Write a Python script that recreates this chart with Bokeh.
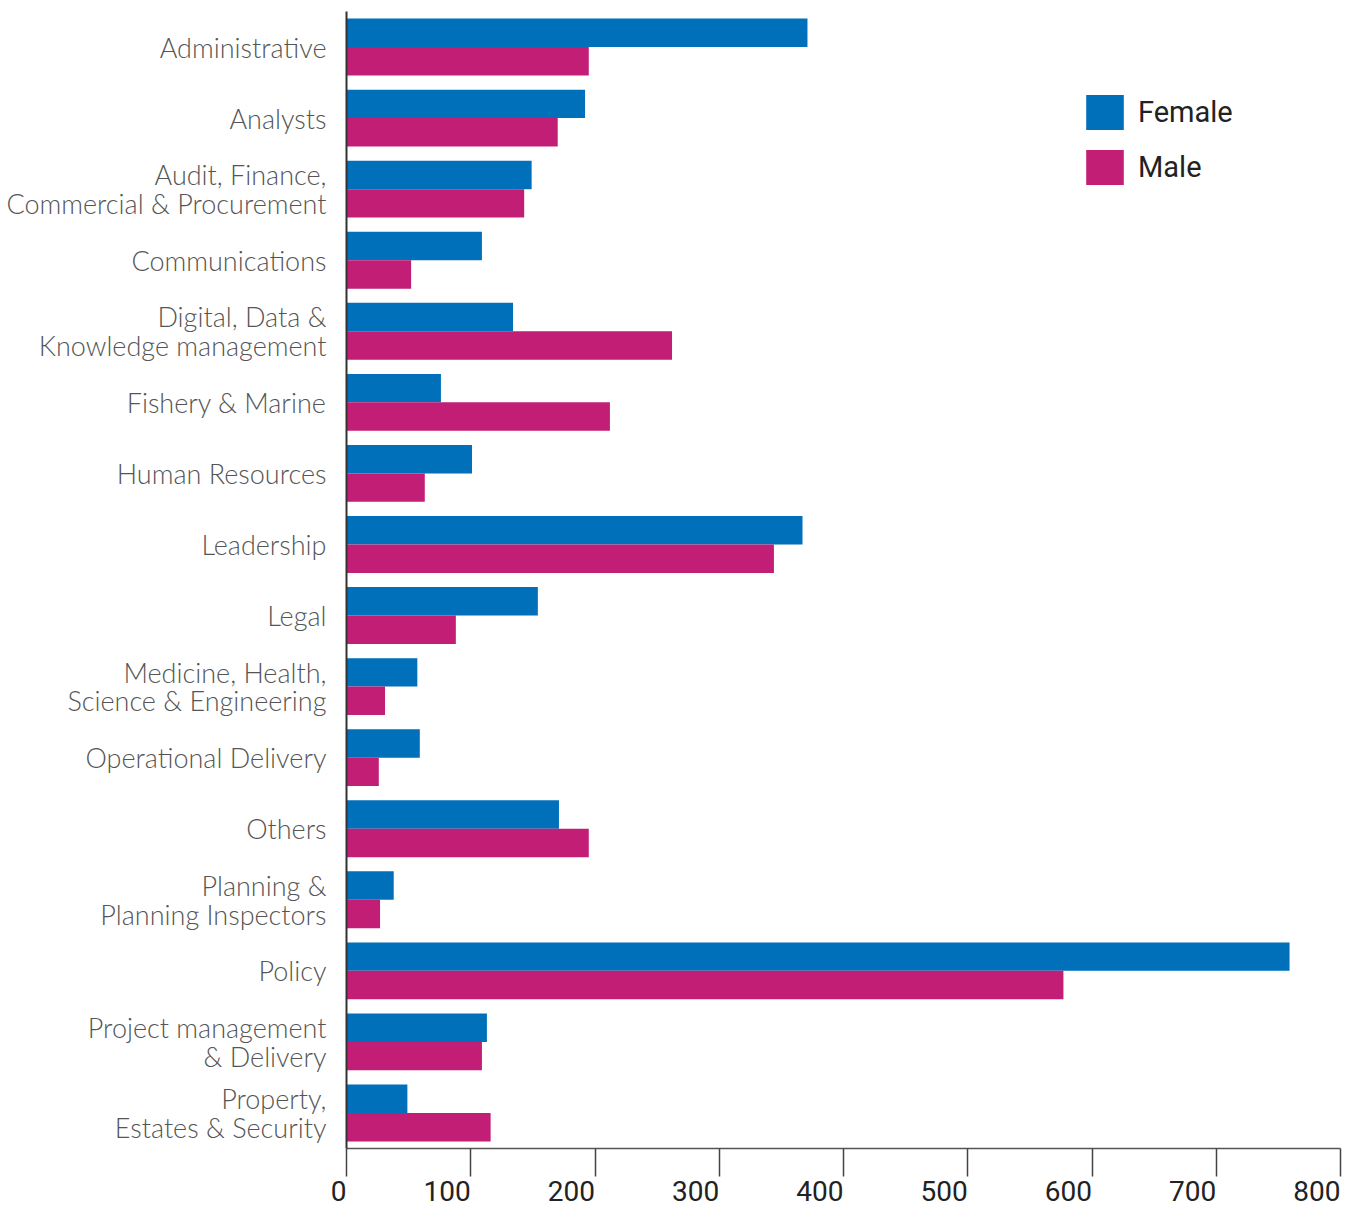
from bokeh.plotting import figure
from bokeh.models import FactorRange, ColumnDataSource, FixedTicker, Legend, LegendItem, Range1d
from bokeh.transform import dodge
from bokeh.embed import file_html
from bokeh.resources import INLINE

categories = [
    "Administrative",
    "Analysts",
    "Audit, Finance,\nCommercial & Procurement",
    "Communications",
    "Digital, Data &\nKnowledge management",
    "Fishery & Marine",
    "Human Resources",
    "Leadership",
    "Legal",
    "Medicine, Health,\nScience & Engineering",
    "Operational Delivery",
    "Others",
    "Planning &\nPlanning Inspectors",
    "Policy",
    "Project management\n& Delivery",
    "Property,\nEstates & Security",
]
female = [371, 192, 149, 109, 134, 76, 101, 367, 154, 57, 59, 171, 38, 759, 113, 49]
male = [195, 170, 143, 52, 262, 212, 63, 344, 88, 31, 26, 195, 27, 577, 109, 116]
x_ticks = [0, 100, 200, 300, 400, 500, 600, 700, 800]

FEMALE_COLOR = "#0070BA"
MALE_COLOR = "#C21E76"

FRAME_W = 994
LEFT = 346
TOP = 11
FRAME_H = 1137
BOTTOM = 61

y_range = FactorRange(factors=list(reversed(categories)), range_padding=0)
x_range = Range1d(0, 800)

p = figure(
    y_range=y_range,
    x_range=x_range,
    frame_width=FRAME_W,
    frame_height=FRAME_H,
    min_border_left=LEFT,
    min_border_right=8,
    min_border_top=TOP,
    min_border_bottom=BOTTOM,
    output_backend="svg",
    toolbar_location=None,
)

src = ColumnDataSource(dict(cat=categories, female=female, male=male))

rf = p.hbar(y=dodge("cat", 0.2, range=y_range), right="female", left=0, height=0.4,
            source=src, fill_color=FEMALE_COLOR, line_color=None)
rm = p.hbar(y=dodge("cat", -0.2, range=y_range), right="male", left=0, height=0.4,
            source=src, fill_color=MALE_COLOR, line_color=None)

p.xgrid.visible = False
p.ygrid.visible = False
p.outline_line_color = None

# x axis: long outward ticks, labels ending at their tick
p.xaxis.ticker = FixedTicker(ticks=x_ticks)
p.xaxis.major_tick_out = 28
p.xaxis.major_tick_in = 0
p.xaxis.minor_tick_out = 0
p.xaxis.minor_tick_in = 0
p.xaxis.axis_line_color = "#555555"
p.xaxis.axis_line_width = 1.5
p.xaxis.major_tick_line_color = "#444444"
p.xaxis.major_tick_line_width = 1.5
p.xaxis.major_label_orientation = 0.0001
p.xaxis.major_label_text_font = "Roboto"
p.xaxis.major_label_text_font_size = "28px"
p.xaxis.major_label_text_color = "#222222"
p.xaxis.major_label_standoff = 14

# y axis
p.yaxis.major_tick_out = 0
p.yaxis.major_tick_in = 0
p.yaxis.minor_tick_out = 0
p.yaxis.axis_line_color = "#333333"
p.yaxis.axis_line_width = 2
p.yaxis.major_label_text_font = "'Lato Light', Lato"
p.yaxis.major_label_text_font_size = "27px"
p.yaxis.major_label_text_color = "#555555"
p.yaxis.major_label_text_line_height = 0.87
p.yaxis.major_label_standoff = 20

legend = Legend(
    items=[LegendItem(label="Female", renderers=[rf]), LegendItem(label="Male", renderers=[rm])],
    location=(735, FRAME_H + TOP - 189),
    glyph_width=47,
    glyph_height=44,
    label_standoff=10,
    spacing=11,
    padding=0,
    margin=0,
    border_line_color=None,
    background_fill_alpha=0,
    label_text_font="Roboto",
    label_text_font_size="29px",
    label_text_color="#222222",
    label_height=44,
)
p.add_layout(legend)

open("out.html", "w").write(file_html(p, INLINE))
